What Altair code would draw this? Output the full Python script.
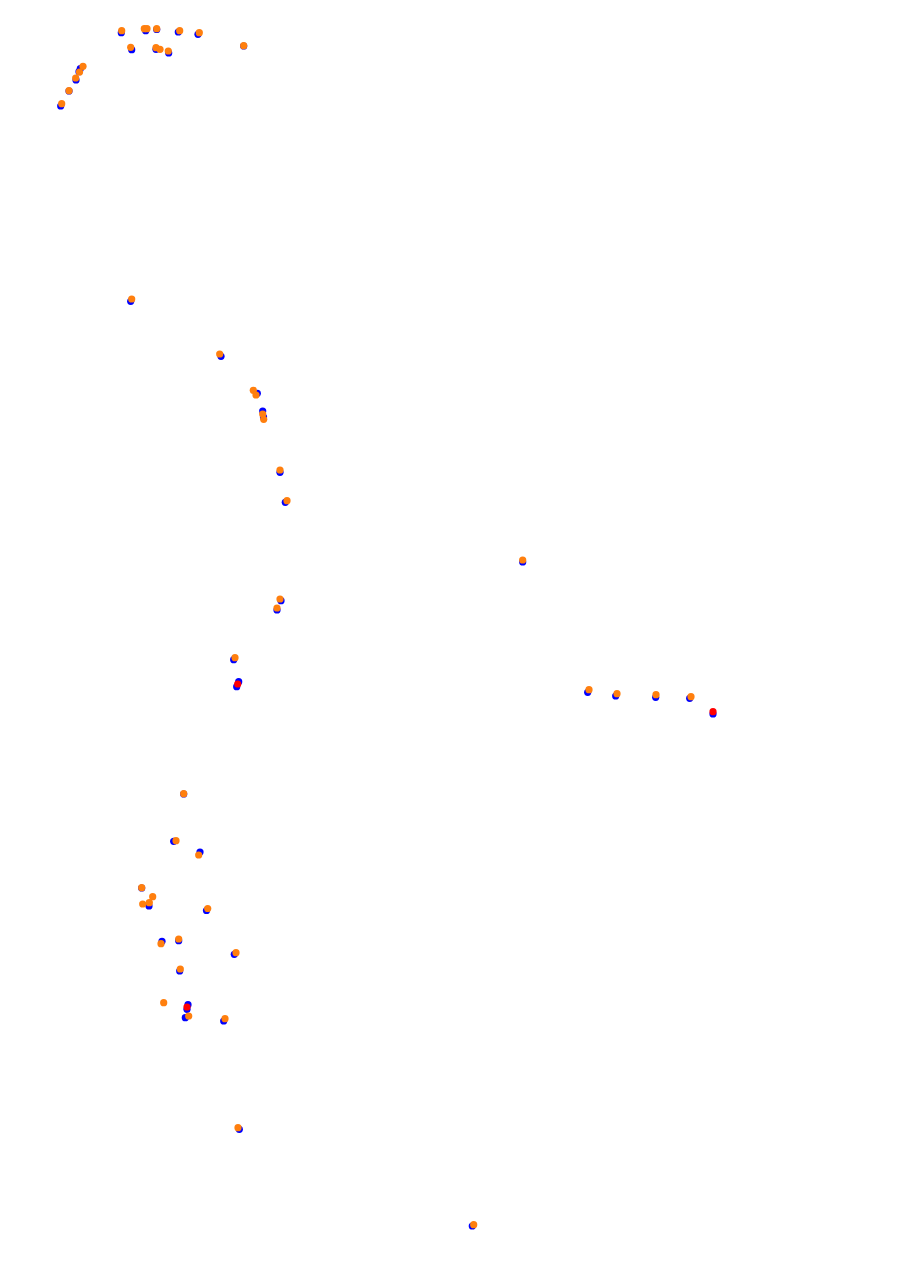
import altair as alt
import pandas as pd

# Series 1 (blue, drawn underneath)
blue_x = [121.3, 145.7, 156.7, 178.3, 198.0, 243.7, 131.7, 156.0, 168.7, 80.3, 79.0, 76.0, 69.0, 60.7,
          130.7, 221.0, 257.3, 262.7, 263.5, 280.0, 285.3,
          522.7, 281.0, 277.0, 233.7, 238.7, 236.7,
          587.7, 615.7, 655.7, 689.7, 713.0,
          183.7, 173.7, 200.0, 141.7, 149.0, 206.5,
          162.0, 178.7, 234.3, 179.7, 188.0, 187.0, 185.3, 223.7,
          239.3, 472.3, 925.0]
blue_y = [32.7, 30.7, 29.5, 32.0, 34.3, 46.0, 49.7, 49.3, 53.0, 68.7, 71.7, 80.0, 91.0, 106.0,
          301.3, 356.3, 393.3, 411.0, 417.0, 472.3, 502.3,
          562.0, 600.7, 610.0, 659.7, 681.7, 686.7,
          692.3, 696.0, 697.3, 698.3, 714.0,
          794.0, 841.3, 852.0, 888.0, 906.0, 910.5,
          941.3, 940.7, 954.3, 971.0, 1004.7, 1009.3, 1017.7, 1021.0,
          1129.3, 1226.0, 871.0]

# Series 2 (red)
red_x = [237.7, 713.0, 187.0]
red_y = [684.0, 711.7, 1007.0]

# Series 3 (orange, drawn on top)
orange_x = [121.7, 144.3, 147.0, 156.7, 179.7, 199.3, 243.7, 130.7, 156.0, 160.0, 168.3, 83.0, 79.5, 75.7, 69.0, 61.7,
            131.7, 219.7, 253.3, 256.0, 262.7, 263.7, 280.0, 287.0,
            522.7, 280.0, 277.0, 235.0,
            589.0, 617.0, 656.0, 691.0,
            183.7, 176.0, 198.7, 141.7, 152.7, 142.7, 149.3, 207.7,
            161.0, 178.7, 236.0, 180.3, 163.7, 188.7, 225.0,
            238.0, 473.7, 925.0]
orange_y = [30.7, 28.7, 28.7, 28.7, 30.7, 32.7, 45.7, 47.3, 47.7, 49.3, 51.0, 66.3, 72.0, 78.0, 90.7, 103.7,
            299.0, 354.0, 390.3, 395.0, 414.0, 419.3, 470.0, 500.7,
            560.0, 599.0, 608.0, 657.7,
            689.7, 693.7, 694.7, 696.7,
            793.7, 840.7, 855.0, 887.7, 896.7, 904.0, 902.7, 908.5,
            943.7, 939.0, 952.7, 969.0, 1002.7, 1016.0, 1018.7,
            1127.7, 1224.7, 870.0]

xs = alt.Scale(domain=[8, 916], nice=False, zero=False)
ys = alt.Scale(domain=[8, 1248], nice=False, zero=False, reverse=True)


def layer(xv, yv, color):
    df = pd.DataFrame({"x": xv, "y": yv})
    return alt.Chart(df).mark_circle(size=52, opacity=1, color=color).encode(
        x=alt.X("x:Q", scale=xs, axis=None),
        y=alt.Y("y:Q", scale=ys, axis=None),
    )


chart = alt.layer(
    layer(blue_x, blue_y, "#0000ff"),
    layer(red_x, red_y, "#ff0000"),
    layer(orange_x, orange_y, "#ff7f0e"),
).properties(
    width=908, height=1240, padding=0, autosize=alt.AutoSizeParams(type="none")
).configure_view(stroke=None)

chart.save("out.html", embed_options={"renderer": "svg", "actions": False})
